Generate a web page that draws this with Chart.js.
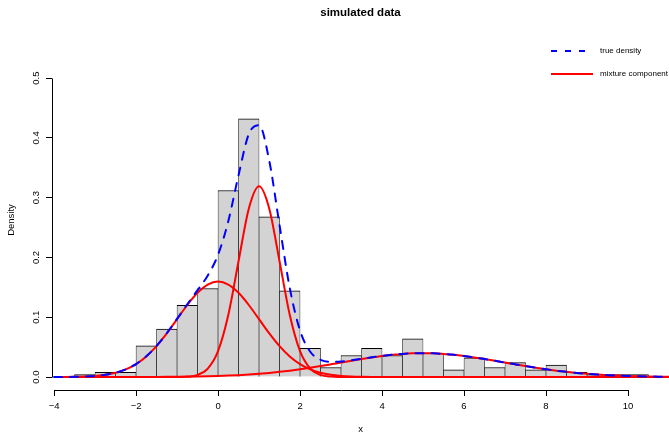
<!DOCTYPE html>
<html><head><meta charset="utf-8">
<script src="https://cdn.jsdelivr.net/npm/chart.js@4.4.1/dist/chart.umd.min.js"></script>
<style>html,body{margin:0;padding:0;background:#fff;}canvas{display:block;}</style>
</head><body>
<canvas id="c" width="669" height="435"></canvas>
<script>
// ---- data ----
const titleText = 'simulated data';
const xLabel = 'x';
const yLabel = 'Density';
const legendLabels = ['true density', 'mixture component'];
const xTicks = [-4, -2, 0, 2, 4, 6, 8, 10];
const yTicks = [0, 0.1, 0.2, 0.3, 0.4, 0.5];

// histogram: bin mid-points (bins of width 0.5) and densities
const binMids = [-3.25,-2.75,-2.25,-1.75,-1.25,-0.75,-0.25,0.25,0.75,1.25,1.75,2.25,2.75,3.25,3.75,4.25,4.75,5.25,5.75,6.25,6.75,7.25,7.75,8.25,8.75,9.25,9.75,10.25];
const histDensity = [0.004,0.008,0.008,0.052,0.080,0.120,0.148,0.312,0.432,0.268,0.144,0.048,0.016,0.036,0.048,0.036,0.064,0.040,0.012,0.032,0.016,0.024,0.012,0.020,0.008,0.004,0.004,0.004];

// curves sampled along x
const curveX = [-4,-3.75,-3.5,-3.25,-3,-2.75,-2.5,-2.25,-2,-1.75,-1.5,-1.25,-1,-0.75,-0.5,-0.25,0,0.25,0.5,0.75,1,1.25,1.5,1.75,2,2.25,2.5,2.75,3,3.25,3.5,3.75,4,4.25,4.5,4.75,5,5.25,5.5,5.75,6,6.25,6.5,6.75,7,7.25,7.5,7.75,8,8.25,8.5,8.75,9,9.25,9.5,9.75,10,10.25,10.5,10.75,11];
const trueDensity = [0.00005,0.00014,0.00035,0.00082,0.00178,0.00366,0.00705,0.01276,0.02169,0.03464,0.05201,0.07337,0.09734,0.12180,0.14529,0.16996,0.20452,0.26066,0.33758,0.40628,0.42134,0.36159,0.25402,0.14877,0.07774,0.04222,0.02882,0.02553,0.02608,0.02803,0.03046,0.03296,0.03526,0.03721,0.03868,0.03958,0.03989,0.03958,0.03867,0.03719,0.03521,0.03282,0.03011,0.02721,0.02420,0.02119,0.01826,0.01550,0.01295,0.01065,0.00863,0.00688,0.00540,0.00417,0.00317,0.00238,0.00175,0.00127,0.00091,0.00064,0.00044];
const component1 = [0.00005,0.00014,0.00035,0.00081,0.00177,0.00364,0.00701,0.01270,0.02160,0.03451,0.05181,0.07306,0.09679,0.12046,0.14083,0.15467,0.15958,0.15467,0.14083,0.12046,0.09679,0.07306,0.05181,0.03451,0.02160,0.01270,0.00701,0.00364,0.00177,0.00081,0.00035,0.00014,0.00005,0,0,0,0,0,0,0,0,0,0,0,0,0,0,0,0,0,0,0,0,0,0,0,0,0,0,0,0];
const component2 = [0,0,0,0,0,0,0,0,0,0,0,0.00001,0.00011,0.00070,0.00355,0.01402,0.04319,0.10361,0.19358,0.28165,0.31915,0.28165,0.19358,0.10361,0.04319,0.01402,0.00355,0.00070,0.00011,0.00001,0,0,0,0,0,0,0,0,0,0,0,0,0,0,0,0,0,0,0,0,0,0,0,0,0,0,0,0,0,0,0];
const component3 = [0,0,0,0.00001,0.00001,0.00002,0.00004,0.00006,0.00009,0.00013,0.00020,0.00030,0.00044,0.00064,0.00091,0.00127,0.00175,0.00238,0.00317,0.00417,0.00540,0.00688,0.00863,0.01065,0.01295,0.01550,0.01826,0.02119,0.02420,0.02721,0.03011,0.03282,0.03521,0.03719,0.03867,0.03958,0.03989,0.03958,0.03867,0.03719,0.03521,0.03282,0.03011,0.02721,0.02420,0.02119,0.01826,0.01550,0.01295,0.01065,0.00863,0.00688,0.00540,0.00417,0.00317,0.00238,0.00175,0.00127,0.00091,0.00064,0.00044];

// ---- build chart ----
const FONT = '"Liberation Sans", Arial, Helvetica, sans-serif';
const pts = (ys) => curveX.map((x, i) => ({x: x, y: ys[i]}));
const lineDs = (label, ys, color, dash, order) => ({
  type: 'line', label: label, data: pts(ys), borderColor: color, borderWidth: 2,
  borderDash: dash, borderCapStyle: dash.length ? 'round' : 'butt',
  pointRadius: 0, fill: false, cubicInterpolationMode: 'monotone', order: order
});

const decor = {
  id: 'decor',
  afterDraw(chart) {
    const {ctx, chartArea, scales: {x, y}} = chart;
    ctx.save();
    ctx.strokeStyle = '#000';
    ctx.lineWidth = 1;
    const yb = Math.round(chartArea.bottom) + 0.5;
    ctx.beginPath();
    ctx.moveTo(Math.round(x.getPixelForValue(xTicks[0])) + 0.5, yb);
    ctx.lineTo(Math.round(x.getPixelForValue(xTicks[xTicks.length - 1])) + 0.5, yb);
    ctx.stroke();
    const xl = Math.round(chartArea.left) + 0.5;
    ctx.beginPath();
    ctx.moveTo(xl, Math.round(y.getPixelForValue(yTicks[0])) + 0.5);
    ctx.lineTo(xl, Math.round(y.getPixelForValue(yTicks[yTicks.length - 1])) + 0.5);
    ctx.stroke();
    // title
    ctx.fillStyle = '#000';
    ctx.textAlign = 'center';
    ctx.textBaseline = 'middle';
    ctx.font = 'bold 11.5px ' + FONT;
    ctx.fillText(titleText, (chartArea.left + chartArea.right) / 2, 13);
    // legend
    ctx.lineWidth = 2;
    ctx.strokeStyle = '#0000FF';
    ctx.setLineDash([6, 8]);
    ctx.beginPath(); ctx.moveTo(551, 51); ctx.lineTo(593, 51); ctx.stroke();
    ctx.setLineDash([]);
    ctx.strokeStyle = '#FF0000';
    ctx.beginPath(); ctx.moveTo(551, 74); ctx.lineTo(593, 74); ctx.stroke();
    ctx.font = '8px ' + FONT;
    ctx.textAlign = 'left';
    ctx.fillText(legendLabels[0], 600, 51);
    ctx.fillText(legendLabels[1], 600, 74);
    ctx.restore();
  }
};

new Chart(document.getElementById('c'), {
  type: 'bar',
  data: {
    datasets: [
      lineDs(legendLabels[0], trueDensity, '#0000FF', [8, 8], 0),
      lineDs(legendLabels[1], component1, '#FF0000', [], 1),
      lineDs(legendLabels[1], component2, '#FF0000', [], 1),
      lineDs(legendLabels[1], component3, '#FF0000', [], 1),
      {
        type: 'bar', label: 'histogram',
        data: binMids.map((m, i) => ({x: m, y: histDensity[i]})),
        backgroundColor: '#D3D3D3', borderColor: '#000',
        borderWidth: {top: 1, left: 0.6, right: 0.6, bottom: 0},
        borderSkipped: 'start',
        barPercentage: 1, categoryPercentage: 1, order: 2
      }
    ]
  },
  options: {
    responsive: false, animation: false, devicePixelRatio: 1,
    layout: {padding: {left: 0, right: 0, top: 50, bottom: 0}},
    plugins: {legend: {display: false}, tooltip: {enabled: false}, title: {display: false}},
    scales: {
      x: {
        type: 'linear', position: 'bottom', min: -4.05, max: 11, offset: false,
        afterBuildTicks: (s) => { s.ticks = xTicks.map(v => ({value: v})); },
        afterFit: (s) => { s.height = 45; },
        grid: {offset: false, drawOnChartArea: false, drawTicks: true, tickLength: 6, color: '#000'},
        border: {display: false},
        ticks: {
          font: {size: 9.5, family: FONT}, color: '#000', padding: 5, maxRotation: 0, minRotation: 0,
          callback: (v) => String(v).replace('-', '\u2212')
        },
        title: {display: true, text: xLabel, font: {size: 9.5, family: FONT}, color: '#000', padding: {top: 0, bottom: 0}}
      },
      y: {
        type: 'linear', position: 'left', min: -0.0217, max: 0.547,
        afterBuildTicks: (s) => { s.ticks = yTicks.map(v => ({value: v})); },
        afterFit: (s) => { s.width = 52; },
        grid: {offset: false, drawOnChartArea: false, drawTicks: true, tickLength: 6, color: '#000'},
        border: {display: false},
        ticks: {
          font: {size: 9.5, family: FONT}, color: '#000', padding: 3,
          minRotation: 90, maxRotation: 90, crossAlign: 'center',
          callback: (v) => v.toFixed(1)
        },
        title: {display: true, text: yLabel, font: {size: 9.5, family: FONT}, color: '#000', padding: {top: 6, bottom: 0}}
      }
    }
  },
  plugins: [decor]
});
</script>
</body></html>
